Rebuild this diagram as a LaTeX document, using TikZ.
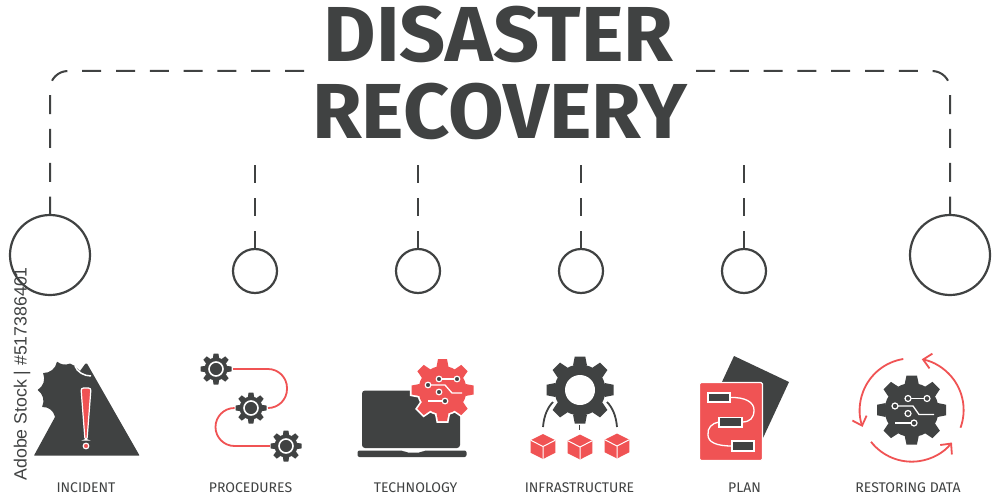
\documentclass[tikz,border=0pt]{standalone}
\usepackage{fontspec}
\setmainfont{Fira Sans}
\newfontfamily\wmfont{Liberation Sans}
\usetikzlibrary{arrows.meta}
\definecolor{ink}{HTML}{404242}
\definecolor{redc}{HTML}{F05354}
\tikzset{
  ring/.style={circle,draw=ink,line width=2.2pt,inner sep=0pt,fill=none},
  dashA/.style={draw=ink,line width=2pt,dash pattern=on 19pt off 14.8pt},
  dashB/.style={draw=ink,line width=2pt,dash pattern=on 18pt off 15pt},
  lab/.style={text=ink,font=\fontsize{14}{14}\selectfont,anchor=base},
  ttl/.style={text=ink,font=\bfseries\fontsize{78}{78}\selectfont,anchor=base,xscale=1.035},
  redl/.style={draw=redc,line width=1.8pt,fill=none},
  whl/.style={draw=white,line width=1.3pt,fill=none},
  dotw/.style={fill=ink,draw=white,line width=1.2pt},
  barb/.style={-{Straight Barb[length=8pt,width=15pt,line width=1.8pt]}},
}
% cx, cy, outer r, body r, tooth half-width, teeth, offset, style
\newcommand{\geardraw}[8]{%
  \foreach \ii in {1,...,#6}{%
    \path[#8,shift={(#1,#2)},rotate=\ii*360/#6+#7]
      (-#5,-#4+1) -- (-#5*0.75,-#3) -- (#5*0.75,-#3) -- (#5,-#4+1) -- cycle;
  }%
  \path[#8] (#1,#2) circle[radius=#4];
}
\begin{document}
\begin{tikzpicture}[x=1pt,y=-1pt]
\useasboundingbox[fill=white] (0,0) rectangle (1000,500);

% title
\node[ttl] (t1) at (498.5,62) {DISASTER};
\node[ttl] (t2) at (499.5,138) {RECOVERY};

% connectors
\node[ring,minimum size=80pt] (c1) at (50,255) {};
\node[ring,minimum size=44pt] (c2) at (255,271) {};
\node[ring,minimum size=44pt] (c3) at (418,271) {};
\node[ring,minimum size=44pt] (c4) at (581,271) {};
\node[ring,minimum size=44pt] (c5) at (744,271) {};
\node[ring,minimum size=80pt] (c6) at (950,255) {};
\coordinate (tl) at (304,71);
\coordinate (tr) at (696,71);
\coordinate (u2) at (255,165);
\coordinate (u3) at (418,165);
\coordinate (u4) at (581,165);
\coordinate (u5) at (744,165);
\draw[dashA,rounded corners=18pt] (tl) -| (c1.north);
\draw[dashA,rounded corners=18pt] (tr) -| (c6.north);
\draw[dashB] (u2) -- (c2.north);
\draw[dashB] (u3) -- (c3.north);
\draw[dashB] (u4) -- (c4.north);
\draw[dashB] (u5) -- (c5.north);

% labels
\node[lab] (l1) at (86,492) {INCIDENT};
\node[lab] (l2) at (250.5,492) {PROCEDURES};
\node[lab] (l3) at (415.5,492) {TECHNOLOGY};
\node[lab] (l4) at (579.5,492) {INFRASTRUCTURE};
\node[lab] (l5) at (744.5,492) {PLAN};
\node[lab] (l6) at (908,492) {RESTORING DATA};

% side text
\node[text=ink,font=\wmfont\fontsize{17.7}{18}\selectfont,rotate=90,anchor=west] (wm) at (22,484) {Adobe Stock | \#517386401};

% INCIDENT
\fill[ink,rounded corners=0.5pt] (34,455.5) -- (55,417)
  to[bend right=40] (42,407) to[bend right=40] (37.5,390) to[bend right=40] (43,373)
  to[bend right=40] (57,361.5) to[bend right=30] (70,363.5) -- (75,366)
  -- (80,371) -- (85.5,363.5) -- (87,363.5) -- (139.5,455.5) -- cycle;
\draw[white,line width=1.5pt] (75,366) .. controls (77,372) and (84,376) .. (91,376);
\draw[fill=redc,draw=white,line width=1.2pt,rounded corners=2.5pt]
  (81,388) -- (91,388) -- (87,440) -- (85,440) -- cycle;
\draw[fill=redc,draw=white,line width=1.2pt] (86,446) circle[radius=2.8];

% PROCEDURES
\draw[redl,rounded corners=19pt] (233,369) -- (287,369) -- (287,408) -- (268,408);
\draw[redl,rounded corners=19pt] (233,408) -- (215.5,408) -- (215.5,446) -- (270,446);
\geardraw{216}{369}{15.5}{11.5}{3.2}{8}{0}{fill=ink}
\geardraw{251}{408}{15.5}{11.5}{3.2}{8}{0}{fill=ink}
\geardraw{286}{446}{15.5}{11.5}{3.2}{8}{0}{fill=ink}
\foreach \x/\y in {216/369,251/408,286/446}{
  \draw[white,line width=1.6pt,fill=ink] (\x,\y) circle[radius=7];
}

% TECHNOLOGY
\fill[ink,rounded corners=3pt] (362,448) -- (362,390.5) -- (460,390.5) -- (460,448) -- cycle;
\fill[ink,rounded corners=2pt] (357.5,450.5) -- (403,450.5) -- (406,452.5) -- (421,452.5) -- (424,450.5) -- (466.5,450.5) -- (466.5,457) -- (357.5,457) -- cycle;
\geardraw{442.5}{390}{31}{24}{6}{8}{0}{fill=white,draw=white,line width=3.5pt}
\geardraw{442.5}{390}{31}{24}{6}{8}{0}{fill=redc}
\draw[whl] (439,379) -- (457,379);
\draw[whl] (428,385) -- (445,385) -- (452,393) -- (462,393);
\draw[whl] (428,401) -- (445,401);
\foreach \x/\y in {428/385,439/379,457/379,439/392,445/401}{
  \draw[dotw] (\x,\y) circle[radius=2.8];
}

% INFRASTRUCTURE
\draw[ink,line width=1.8pt] (543,427) .. controls (544,415) and (548,407) .. (553,402);
\draw[ink,line width=1.8pt] (617,427) .. controls (616,415) and (612,407) .. (607,402);
\draw[ink,line width=1.8pt] (579.5,425) -- (579.5,430);
\geardraw{580}{390}{33.5}{25.5}{7}{8}{0}{fill=ink}
\fill[white] (580,390) circle[radius=15];
\foreach \x/\y in {543/446.5,580/447,617/446}{
  \begin{scope}[shift={(\x,\y)}]
    \fill[redc] (0,-12.5) -- (12.3,-6.3) -- (12.3,6.3) -- (0,12.5) -- (-12.3,6.3) -- (-12.3,-6.3) -- cycle;
    \draw[white,line width=1pt] (-12.3,-6.3) -- (0,0) -- (12.3,-6.3) (0,0) -- (0,12.5);
  \end{scope}
}

% PLAN
\fill[ink] (734,356) -- (789,382) -- (763,438) -- (708,412) -- cycle;
\draw[fill=redc,draw=white,line width=1.2pt,rounded corners=1.5pt] (699.5,382.5) rectangle (762.5,460.5);
\draw[whl] (730,397.5) .. controls (745,397) and (754,402) .. (754,410) .. controls (754,418) and (750,422) .. (742,422);
\draw[whl] (719,422) .. controls (712,423) and (707,428) .. (708,435) .. controls (708,442) and (716,446) .. (732,446);
\foreach \a/\b/\c/\d in {708/393/730/402,719/417.5/742/427,732/441/754/451}{
  \draw[fill=ink,draw=white,line width=1.2pt] (\a,\b) rectangle (\c,\d);
}

% RESTORING DATA
\draw[redl,barb] (903.3,359) arc[start angle=-99,end angle=-199,radius=51.7];
\draw[redl,barb] (960.5,427.7) arc[start angle=20,end angle=-79,radius=51.7];
\draw[redl,barb] (871,441.8) arc[start angle=142,end angle=39,radius=51.7];
\geardraw{911.7}{410}{34.5}{27}{7}{8}{0}{fill=ink}
\draw[whl] (908,398.5) -- (927,398.5);
\draw[whl] (895,406) -- (913,406) -- (919,414.5) -- (934,414.5);
\draw[whl] (895,423) -- (914,423);
\foreach \x/\y in {895/406,908/398.5,927/398.5,908/413.5,914/423}{
  \draw[fill=ink,draw=white,line width=1.2pt] (\x,\y) circle[radius=3];
}
\end{tikzpicture}
\end{document}
